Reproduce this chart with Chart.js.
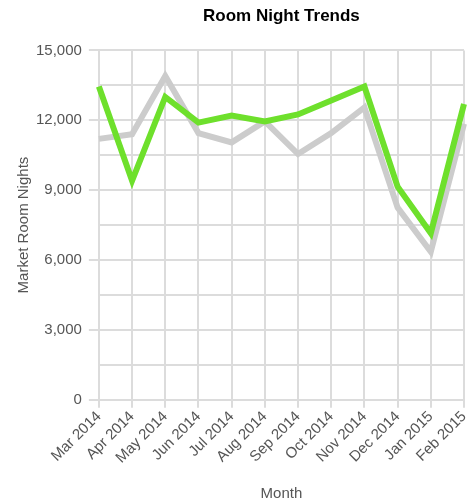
<!DOCTYPE html>
<html>
<head>
<meta charset="utf-8">
<script src="https://cdn.jsdelivr.net/npm/chart.js@4/dist/chart.umd.min.js"></script>
<style>
  html, body { margin: 0; padding: 0; background: #fff; }
  #wrap { width: 468px; height: 504px; }
</style>
</head>
<body>
<div id="wrap"><canvas id="roomChart"></canvas></div>
<script>
"use strict";

// data
const months = ["Mar 2014", "Apr 2014", "May 2014", "Jun 2014", "Jul 2014", "Aug 2014",
  "Sep 2014", "Oct 2014", "Nov 2014", "Dec 2014", "Jan 2015", "Feb 2015"];
const currentYear = [13450, 9400, 13000, 11900, 12200, 11950, 12250, 12850, 13450, 9150, 7150, 12700];
const priorYear = [11200, 11400, 13900, 11450, 11050, 11950, 10550, 11450, 12550, 8250, 6350, 11850];
const yTicksMax = 15000;
const yLabelStep = 3000;

const font = "'Liberation Sans', Arial, sans-serif";
const labelColor = "#555";
const gridColor = "#dcdcdc";

const chart = new Chart(document.getElementById("roomChart"), {
  type: "line",
  data: {
    labels: months,
    datasets: [
      // green drawn on top (dataset 0 is painted last)
      { data: currentYear, borderColor: "#6ee02c", borderWidth: 6, pointRadius: 0, tension: 0 },
      { data: priorYear, borderColor: "#cccccc", borderWidth: 6, pointRadius: 0, tension: 0 },
    ],
  },
  options: {
    responsive: true,
    maintainAspectRatio: false,
    animation: false,
    layout: { padding: { left: 15, right: 4, top: 4, bottom: 1 } },
    plugins: {
      legend: { display: false },
      tooltip: { enabled: false },
      title: {
        display: true,
        text: "Room Night Trends",
        fullSize: false,
        color: "#000",
        font: { family: font, size: 17, weight: "bold" },
        padding: { top: 2, bottom: 24 },
      },
    },
    scales: {
      x: {
        offset: false,
        // let the last rotated label run to the canvas edge like the original
        afterFit: (scale) => { scale.paddingRight = 0; },
        grid: { color: gridColor, lineWidth: 2, tickLength: 8, tickColor: gridColor },
        border: { color: gridColor, width: 2 },
        ticks: {
          color: labelColor,
          font: { family: font, size: 15 },
          autoSkip: false,
          maxRotation: 45,
          minRotation: 45,
          padding: 0,
        },
        title: {
          display: true,
          text: "Month",
          color: labelColor,
          font: { family: font, size: 15 },
          padding: { top: 18, bottom: 0 },
        },
      },
      y: {
        min: 0,
        max: yTicksMax,
        grid: {
          color: gridColor,
          lineWidth: 2,
          tickLength: 10,
          // tick marks only next to labelled values
          tickColor: (ctx) => (ctx.tick && ctx.tick.value % yLabelStep === 0 ? gridColor : "rgba(0,0,0,0)"),
        },
        border: { color: gridColor, width: 2 },
        ticks: {
          stepSize: yLabelStep / 2,
          color: labelColor,
          font: { family: font, size: 15 },
          padding: 7,
          callback: (value) => (value % yLabelStep === 0 ? value.toLocaleString("en-US") : ""),
        },
        title: {
          display: true,
          text: "Market Room Nights",
          color: labelColor,
          font: { family: font, size: 15 },
          padding: { top: 0, bottom: -4 },
        },
      },
    },
  },
});
</script>
</body>
</html>
